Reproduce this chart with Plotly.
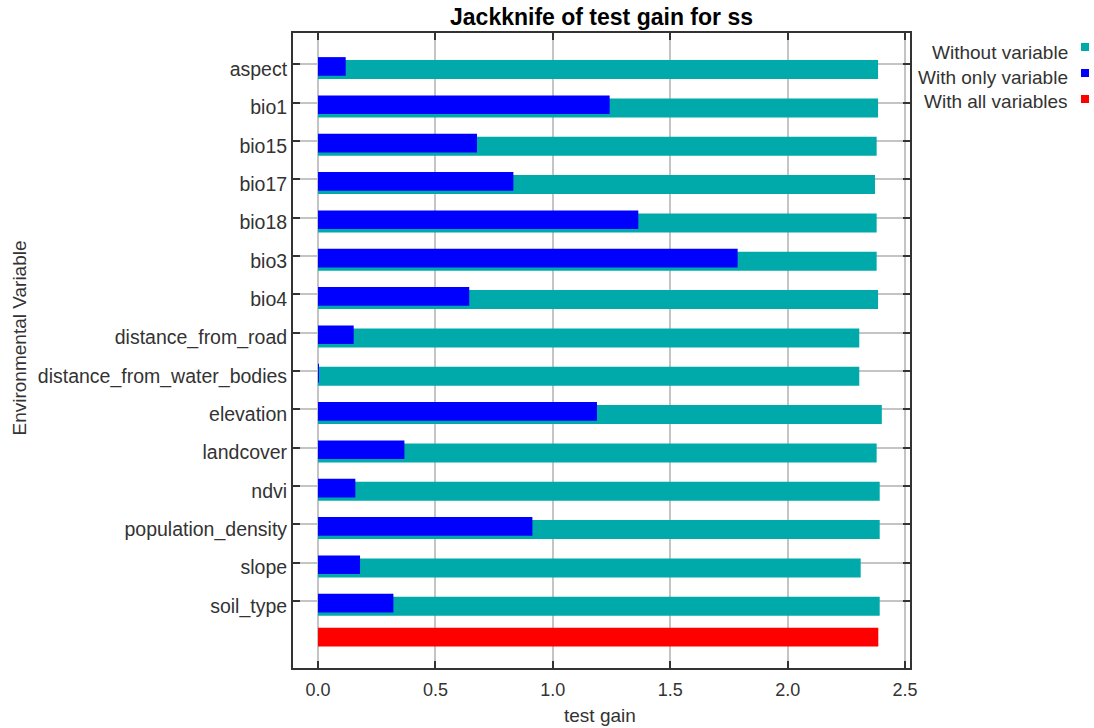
import plotly.graph_objects as go

variables = ["aspect", "bio1", "bio15", "bio17", "bio18", "bio3", "bio4",
             "distance_from_road", "distance_from_water_bodies", "elevation",
             "landcover", "ndvi", "population_density", "slope", "soil_type"]
without_variable = [2.385, 2.385, 2.379, 2.372, 2.379, 2.379, 2.385,
                    2.305, 2.305, 2.401, 2.379, 2.392, 2.392, 2.311, 2.392]
with_only_variable = [0.118, 1.242, 0.677, 0.832, 1.364, 1.787, 0.644,
                      0.152, 0.004, 1.188, 0.368, 0.159, 0.913, 0.179, 0.321]
with_all_variables = 2.386
x_ticks = [0.0, 0.5, 1.0, 1.5, 2.0, 2.5]
x_tick_labels = ["0.0", "0.5", "1.0", "1.5", "2.0", "2.5"]
legend_labels = ["Without variable", "With only variable", "With all variables"]

TEAL = "#00AAAA"
BLUE = "#0000FF"
RED = "#FF0000"
FONT = "Liberation Sans"
TXT = "#333333"

pos = list(range(len(variables)))
all_pos = len(variables)

fig = go.Figure()
fig.add_trace(go.Bar(y=pos, x=without_variable, orientation="h",
                     width=0.496, offset=-0.11,
                     marker=dict(color=TEAL, line=dict(width=0)),
                     name=legend_labels[0], showlegend=False))
fig.add_trace(go.Bar(y=pos, x=with_only_variable, orientation="h",
                     width=0.487, offset=-0.188,
                     marker=dict(color=BLUE, line=dict(width=0)),
                     name=legend_labels[1], showlegend=False))
fig.add_trace(go.Bar(y=[all_pos], x=[with_all_variables], orientation="h",
                     width=0.486, offset=-0.30,
                     marker=dict(color=RED, line=dict(width=0)),
                     name=legend_labels[2], showlegend=False))

L, R, T, B = 293, 910, 33, 668
W, H = 1094, 728
pw, ph = R - L, B - T


def px(x):
    return (x - L) / pw


def py(y):
    return (B - y) / ph


annotations = [
    dict(text="Environmental Variable", x=px(18.5), y=py(338), xref="paper", yref="paper",
         textangle=-90, showarrow=False, xanchor="center", yanchor="middle",
         font=dict(family=FONT, size=19, color=TXT)),
    dict(text="test gain", x=px(600), y=py(715), xref="paper", yref="paper",
         showarrow=False, xanchor="center", yanchor="middle",
         font=dict(family=FONT, size=19, color=TXT)),
]
shapes = []
leg_text_y = [52, 77, 101]
leg_sq_y = [47, 73, 99]
for lab, col, ty, sy in zip(legend_labels, [TEAL, BLUE, RED], leg_text_y, leg_sq_y):
    annotations.append(dict(text=lab, x=px(1070), y=py(ty), xref="paper", yref="paper",
                            showarrow=False, xanchor="right", yanchor="middle",
                            font=dict(family=FONT, size=19, color=TXT)))
    shapes.append(dict(type="rect", xref="paper", yref="paper",
                       x0=px(1081), x1=px(1089), y0=py(sy + 4), y1=py(sy - 4),
                       fillcolor=col, line=dict(width=0)))

fig.update_layout(
    width=W, height=H,
    margin=dict(l=L, r=W - R, t=T, b=H - B, pad=0),
    paper_bgcolor="white", plot_bgcolor="white",
    barmode="overlay",
    title=dict(text="<b>Jackknife of test gain for ss</b>", x=0.5, xref="paper",
               xanchor="center", y=1 - 17 / H, yref="container", yanchor="middle",
               font=dict(family=FONT, size=23, color="black")),
    font=dict(family=FONT, size=18, color=TXT),
    annotations=annotations,
    shapes=shapes,
    xaxis=dict(range=[-0.1065, 2.521], tickvals=x_ticks, ticktext=x_tick_labels,
               showgrid=True, gridcolor="#C4C4C4", gridwidth=1.5,
               zeroline=False, showline=True, linecolor="#333333", linewidth=2,
               mirror="ticks", ticks="inside", ticklen=7, tickcolor="#333333",
               tickwidth=1.5, ticklabelstandoff=4,
               tickfont=dict(family=FONT, size=18, color=TXT)),
    yaxis=dict(range=[15.75, -0.817], tickvals=pos, ticktext=variables,
               showgrid=True, gridcolor="#C4C4C4", gridwidth=1.5,
               zeroline=False, showline=True, linecolor="#333333", linewidth=2,
               mirror="ticks", ticks="inside", ticklen=7, tickcolor="#333333",
               tickwidth=1.5, ticklabelstandoff=0, ticklabelshift=-5,
               tickfont=dict(family=FONT, size=19.5, color=TXT)),
)

fig.write_html("out.html")
